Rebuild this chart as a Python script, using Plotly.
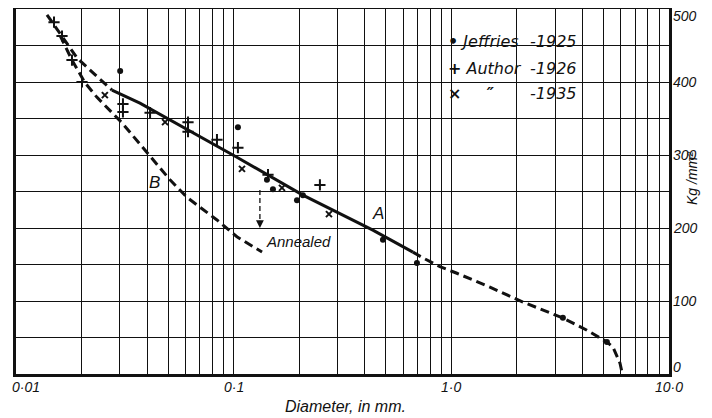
import math
import plotly.graph_objects as go

# ---- data (diameter in mm, strength in Kg/mm^2) ----
upper_dash_x = [0.01388, 0.01627, 0.01907, 0.02307, 0.0276]
upper_dash_y = [492, 462, 433, 410, 389]

curve_a_x = [0.0276, 0.0371, 0.1035, 0.208, 0.436, 0.666]
curve_a_y = [389, 371, 297, 245, 197, 167]

lower_dash_x = [0.666, 0.741, 0.886, 1.061, 1.504, 2.133, 3.255, 4.197, 5.185, 5.525, 5.952, 6.078]
lower_dash_y = [167, 159, 147, 138, 119, 98.6, 76.7, 60, 43.8, 37, 15, 2.7]

curve_b_x = [0.01592, 0.01808, 0.02075, 0.02356, 0.0307, 0.04, 0.051, 0.061, 0.0838, 0.1035, 0.135]
curve_b_y = [464, 430, 399, 379, 344, 303, 266, 242, 211, 188, 167]

jeffries_x = [0.0301, 0.1046, 0.1422, 0.1515, 0.1954, 0.208, 0.485, 0.695, 3.255, 5.185]
jeffries_y = [415, 338, 266, 253, 238, 245, 184, 152, 77, 44]

author_x = [0.01495, 0.01627, 0.01808, 0.0201, 0.0310, 0.0310, 0.0413, 0.0617, 0.0617, 0.0838, 0.1046, 0.1438, 0.249]
author_y = [482, 463, 430, 400, 370, 359, 358, 345, 332, 321, 310, 273, 259]

y1935_x = [0.0256, 0.0484, 0.1092, 0.1667, 0.274]
y1935_y = [382, 345, 281, 255, 219]

annealed_x = [0.132, 0.132]
annealed_y = [252, 206]

x_tick_vals = [0.01, 0.1, 1, 10]
x_tick_text = ["0·01", "0·1", "1·0", "10·0"]
y_tick_vals = [0, 100, 200, 300, 400, 500]
y_tick_text = ["0", "100", "200", "300", "400", "500"]
y_tick_shift = [7, 0, 0, 0, 0, -7]   # small pixel nudges of the right-hand labels

FONT = "Liberation Sans"
LFONT = "DejaVu Sans"
INK = "#111111"

# page has an 8px body margin: figure coordinates = page coordinates - 8
OFF = 8
W, H = 704, 410
PL, PR, PT, PB = 16 - OFF, 669 - OFF, 9 - OFF, 374 - OFF  # plot area in figure px


def px_x(page_x):
    return (page_x - OFF - PL) / (PR - PL)


def px_y(page_y):
    return (PB - (page_y - OFF)) / (PB - PT)


fig = go.Figure()
dash_style = "9px,5px"
fig.add_trace(go.Scatter(x=upper_dash_x, y=upper_dash_y, mode="lines",
                         line=dict(color=INK, width=3, dash=dash_style), showlegend=False))
fig.add_trace(go.Scatter(x=curve_a_x, y=curve_a_y, mode="lines",
                         line=dict(color=INK, width=3), showlegend=False))
fig.add_trace(go.Scatter(x=lower_dash_x, y=lower_dash_y, mode="lines",
                         line=dict(color=INK, width=3, dash=dash_style), showlegend=False))
fig.add_trace(go.Scatter(x=curve_b_x, y=curve_b_y, mode="lines",
                         line=dict(color=INK, width=3, dash=dash_style), showlegend=False))
fig.add_trace(go.Scatter(x=annealed_x, y=annealed_y, mode="lines",
                         line=dict(color=INK, width=1.3, dash="5px,3px"), showlegend=False))

fig.add_trace(go.Scatter(x=jeffries_x, y=jeffries_y, mode="markers", name="Jeffries -1925",
                         marker=dict(symbol="circle", size=6, color=INK), showlegend=False))
fig.add_trace(go.Scatter(x=author_x, y=author_y, mode="markers", name="Author -1926",
                         marker=dict(symbol="cross-thin", size=8, line=dict(color=INK, width=2)),
                         showlegend=False))
fig.add_trace(go.Scatter(x=y1935_x, y=y1935_y, mode="markers", name="-1935",
                         marker=dict(symbol="x-thin", size=6, line=dict(color=INK, width=2)),
                         showlegend=False))

annotations = []
# arrow head for "Annealed"
annotations.append(dict(x=math.log10(annealed_x[1]), y=200, ax=math.log10(annealed_x[1]), ay=212,
                        xref="x", yref="y", axref="x", ayref="y", text="", showarrow=True,
                        arrowhead=2, arrowsize=1.2, arrowwidth=1.3, arrowcolor=INK))
lab_font = dict(family=FONT, size=15, color=INK, style="italic")
annotations.append(dict(x=math.log10(0.1377), y=182, xref="x", yref="y", text="Annealed",
                        showarrow=False, xanchor="left", yanchor="middle", font=lab_font))
annotations.append(dict(x=math.log10(0.46), y=220, xref="x", yref="y", text="A",
                        showarrow=False, font=dict(family=FONT, size=17, color=INK, style="italic")))
annotations.append(dict(x=math.log10(0.0435), y=263, xref="x", yref="y", text="B",
                        showarrow=False, font=dict(family=FONT, size=17, color=INK, style="italic")))
tick_font = dict(family=FONT, size=14, color=INK, style="italic")
# bottom labels
for v, t in zip(x_tick_vals, x_tick_text):
    first = v == x_tick_vals[0]
    annotations.append(dict(x=math.log10(v), y=0, xref="x", yref="paper", text=t, showarrow=False,
                            xanchor="left" if first else "center", yanchor="top",
                            xshift=-6 if first else 0, yshift=-3, font=tick_font))
# right-hand y labels
for v, t, s in zip(y_tick_vals, y_tick_text, y_tick_shift):
    annotations.append(dict(x=1, y=v, xref="paper", yref="y", text=t, showarrow=False,
                            xanchor="left", yanchor="middle", xshift=2, yshift=s, font=tick_font))
# legend box
leg_font = dict(family=LFONT, size=16, color=INK, style="italic")
rows = [("<b>•</b> Jeffries", "-1925", 42), ("<b>+</b> Author", "-1926", 68),
        ("<b>×</b>     <b>″</b>", "-1935", 93)]
for left, right, py in rows:
    annotations.append(dict(x=px_x(446), y=px_y(py), xref="paper", yref="paper", text=left,
                            showarrow=False, xanchor="left", yanchor="middle", font=leg_font))
    annotations.append(dict(x=px_x(579), y=px_y(py), xref="paper", yref="paper", text=right,
                            showarrow=False, xanchor="right", yanchor="middle", font=leg_font))
# axis titles
annotations.append(dict(x=px_x(345), y=px_y(406), xref="paper", yref="paper",
                        text="Diameter, in mm.", showarrow=False, yanchor="middle",
                        font=dict(family=FONT, size=16, color=INK, style="italic")))
annotations.append(dict(x=px_x(702), y=px_y(178), xref="paper", yref="paper",
                        text="Kg /mm²", showarrow=False, textangle=-90,
                        font=dict(family=FONT, size=14, color=INK, style="italic")))

shapes = [dict(type="rect", xref="paper", yref="paper",
               x0=px_x(440), x1=px_x(583), y0=px_y(103), y1=px_y(30),
               fillcolor="white", line=dict(width=0), layer="between")]

minor_x = [m * 10 ** e for e in (-2, -1, 0) for m in range(2, 10)]

fig.update_layout(
    width=W, height=H,
    margin=dict(l=PL, r=W - PR, t=PT, b=H - PB, pad=0, autoexpand=False),
    paper_bgcolor="white", plot_bgcolor="white",
    annotations=annotations, shapes=shapes,
    xaxis=dict(type="log", range=[-2, 1], tickmode="array", tickvals=x_tick_vals,
               showticklabels=False, ticks="", showgrid=True, gridcolor=INK, gridwidth=1.4,
               showline=True, linecolor=INK, linewidth=2.5, mirror=True, zeroline=False,
               automargin=False,
               minor=dict(tickmode="array", tickvals=minor_x, showgrid=True,
                          gridcolor=INK, gridwidth=1.4, ticks="")),
    yaxis=dict(range=[0, 500], side="right", tickmode="array", tickvals=y_tick_vals,
               showticklabels=False, ticks="", showgrid=True, gridcolor=INK, gridwidth=1.4,
               showline=True, linecolor=INK, linewidth=2.5, mirror=True, zeroline=False,
               automargin=False,
               minor=dict(dtick=50, showgrid=True, gridcolor=INK, gridwidth=1.4, ticks="")),
)

fig.write_html("out.html")
